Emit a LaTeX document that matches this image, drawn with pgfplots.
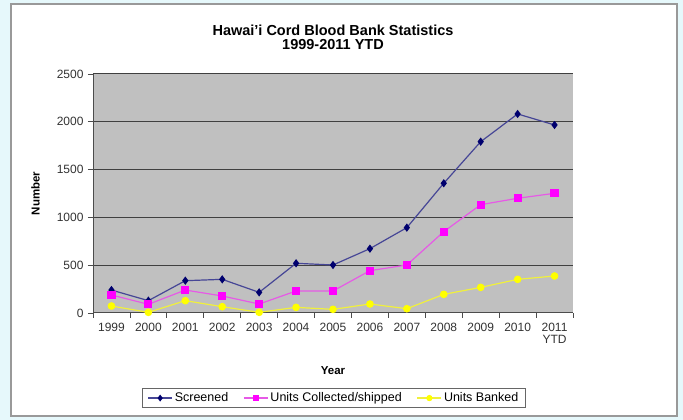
\documentclass[border=0pt]{standalone}
\usepackage{fontspec}
\setmainfont{Liberation Sans}
\usepackage{pgfplots}
\pgfplotsset{compat=1.18}
\definecolor{bgc}{RGB}{230,248,251}
\definecolor{plotbg}{RGB}{192,192,192}
\definecolor{scr}{RGB}{0,0,110}
\definecolor{scrline}{RGB}{70,70,150}
\definecolor{mag}{RGB}{255,0,255}
\definecolor{magline}{RGB}{230,90,230}
\definecolor{yel}{RGB}{255,255,0}
\definecolor{yelline}{RGB}{240,240,60}
\begin{document}
\begin{tikzpicture}
\useasboundingbox (0pt,0pt) rectangle (683pt,420pt);
\fill[bgc] (0pt,0pt) rectangle (683pt,420pt);
\filldraw[fill=white, draw=gray!80, line width=1.5pt] (11pt,4pt) rectangle (677pt,416pt);
\begin{axis}[
  at={(93pt,107pt)}, anchor=south west,
  scale only axis, width=480pt, height=239pt,
  xmin=-0.5, xmax=12.5, ymin=0, ymax=2500,
  axis background/.style={fill=plotbg},
  axis x line*=bottom, axis y line*=left,
  axis line style={-, black!70, line width=1pt},
  xtick={0,...,12},
  xticklabels={1999,2000,2001,2002,2003,2004,2005,2006,2007,2008,2009,2010,{2011\\YTD}},
  x tick label style={align=center, font=\fontsize{12}{11.5}\selectfont, text=black!80, yshift=-2pt},
  major x tick style={draw=none},
  minor xtick={-0.5,0.5,...,12.5},
  minor x tick style={black!70, line width=0.8pt},
  minor tick length=5pt,
  ytick={0,500,...,2500},
  y tick label style={font=\fontsize{12}{12}\selectfont, text=black!80, xshift=-1pt},
  y tick style={black!70, line width=0.8pt},
  major tick length=5pt,
  tick align=outside,
  /pgf/number format/1000 sep={},
  /pgf/number format/assume math mode=true,
  ymajorgrids, major grid style={black!75, line width=1pt},
  xlabel={\textbf{Year}},
  xlabel style={at={(axis description cs:0.5,-0.243)}, anchor=center, font=\fontsize{11.5}{12}\selectfont},
  ylabel={\textbf{Number}},
  ylabel style={at={(axis description cs:-0.12,0.5)}, anchor=center, rotate=0, font=\fontsize{11.5}{12}\selectfont},
  title={\textbf{Hawai'i Cord Blood Bank Statistics}\\\textbf{1999-2011 YTD}},
  title style={at={(0.5,1.06)}, anchor=south, align=center, font=\fontsize{14.5}{14}\selectfont},
  legend style={at={(0.502,-0.356)}, anchor=center, legend columns=3, draw=black!60, line width=0.8pt,
    font=\fontsize{12.5}{13}\selectfont, inner xsep=5pt, inner ysep=2pt,
    /tikz/every even column/.append style={column sep=13pt}},
  legend image code/.code={
    \draw[mark repeat=2,mark phase=2,mark size=2.5pt] plot coordinates {(0pt,0pt) (12pt,0pt) (24pt,0pt)};},
  legend cell align=left,
]
\addplot[scrline, line width=1.2pt, mark=diamond*, mark size=3.2pt, mark options={fill=scr, draw=scr}]
  coordinates {(0,240)(1,129)(2,338)(3,352)(4,216)(5,520)(6,502)(7,673)(8,893)(9,1357)(10,1792)(11,2082)(12,1967)};
\addlegendentry{Screened}
\addplot[magline, line width=1.2pt, mark=square*, mark size=3.5pt, mark options={fill=mag, draw=mag}]
  coordinates {(0,188)(1,91)(2,240)(3,178)(4,94)(5,230)(6,230)(7,443)(8,502)(9,851)(10,1133)(11,1200)(12,1252)};
\addlegendentry{Units Collected/shipped}
\addplot[yelline, line width=1.2pt, mark=*, mark size=3.2pt, mark options={fill=yel, draw=yel}]
  coordinates {(0,73)(1,7)(2,129)(3,66)(4,7)(5,59)(6,38)(7,94)(8,45)(9,195)(10,268)(11,352)(12,387)};
\addlegendentry{Units Banked}
\end{axis}
\end{tikzpicture}
\end{document}
